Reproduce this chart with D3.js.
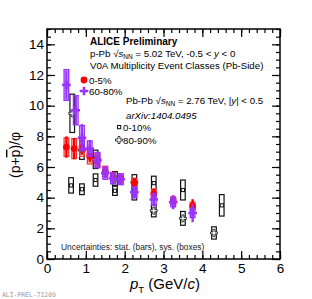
<!DOCTYPE html>
<html>
<head>
<meta charset="utf-8">
<script src="https://cdn.jsdelivr.net/npm/d3@7"></script>
<style>
  body { margin: 0; background: #fff; }
  svg { display: block; font-family: "Liberation Sans", Arial, sans-serif; }
</style>
</head>
<body>
<div id="chart"></div>
<script>
// p-Pb, V0A multiplicity classes
const ptPPb = [0.5, 0.7, 0.9, 1.1, 1.3, 1.5, 1.7, 1.9, 2.25, 2.75, 3.25, 3.75];
const ptPPbPeri = [0.5, 0.74, 0.9, 1.1, 1.3, 1.5, 1.7, 1.9, 2.25, 2.75, 3.25, 3.75];
const central05 = [7.3, 7.2, 7.3, 6.7, 6.45, 5.7, 5.35, 5.25, 4.95, 4.25, 3.8, 3.45];
const central05Stat = [0.7, 0.7, 0.5, 0.4, 0.35, 0.3, 0.3, 0.3, 0.35, 0.35, 0.35, 0.45];
const central05Sys = [0.6, 0.65, 0.6, 0.5, 0.45, 0.35, 0.3, 0.3, 0.3, 0.3, 0.25, 0.25];
const peri6080 = [11.35, 9.7, 7.9, 7.2, 6.45, 5.6, 5.25, 5.2, 4.35, 3.88, 3.7, 3.0];
const peri6080Stat = [0.95, 0.95, 0.9, 0.55, 0.5, 0.35, 0.35, 0.35, 0.4, 0.45, 0.45, 0.6];
const peri6080Sys = [1.0, 0.95, 0.8, 0.5, 0.5, 0.4, 0.35, 0.35, 0.35, 0.35, 0.3, 0.3];

// Pb-Pb, arXiv:1404.0495
const ptPbPb010 = [0.62, 0.9, 1.25, 1.75, 2.25, 2.75, 3.5, 4.5];
const pbpb010 = [4.8, 4.55, 5.15, 4.45, 4.25, 4.95, 4.5, 3.5];
const pbpb010Sys = [0.5, 0.35, 0.4, 0.3, 0.4, 0.45, 0.65, 0.7];
const ptPbPb8090 = [0.65, 0.9, 1.25, 1.75, 2.25, 2.75, 3.5, 4.3];
const pbpb8090 = [9.5, 7.1, 6.5, 5.25, 5.0, 3.15, 2.65, 1.7];
const pbpb8090Sys = [1.25, 0.6, 0.6, 0.45, 0.5, 0.4, 0.45, 0.4];

const xTicks = [0, 1, 2, 3, 4, 5, 6];
const yTicks = [0, 2, 4, 6, 8, 10, 12, 14];

const margin = {top: 29, right: 32, bottom: 40, left: 47};
const W = 312, H = 299;
const width = W - margin.left - margin.right;
const height = H - margin.top - margin.bottom;

const svg = d3.select('#chart').append('svg')
    .attr('width', W)
    .attr('height', H);

const g = svg.append('g')
    .attr('transform', 'translate(' + margin.left + ',' + margin.top + ')');

const x = d3.scaleLinear().domain([0, 6]).range([0, width]);
const y = d3.scaleLinear().domain([0, 15]).range([height, 0]);

// axes, ticks inward, mirrored
const xMinor = d3.range(0, 6.001, 0.2);
const yMinor = d3.range(0, 15.001, 0.5);

g.append('g').attr('transform', 'translate(0,' + height + ')')
    .call(d3.axisBottom(x).tickValues(xMinor).tickSize(-4).tickFormat(''));
g.append('g').attr('class', 'xlab').attr('transform', 'translate(0,' + height + ')')
    .call(d3.axisBottom(x).tickValues(xTicks).tickSize(-8).tickPadding(4).tickFormat(d3.format('d')));
g.append('g')
    .call(d3.axisLeft(y).tickValues(yMinor).tickSize(-4).tickFormat(''));
g.append('g').attr('class', 'ylab')
    .call(d3.axisLeft(y).tickValues(yTicks).tickSize(-8).tickPadding(3).tickFormat(d3.format('d')));
g.append('g').call(d3.axisTop(x).tickValues(xMinor).tickSize(-4).tickFormat(''));
g.append('g').call(d3.axisTop(x).tickValues(xTicks).tickSize(-8).tickFormat(''));
g.append('g').attr('transform', 'translate(' + width + ',0)')
    .call(d3.axisRight(y).tickValues(yMinor).tickSize(-4).tickFormat(''));
g.append('g').attr('transform', 'translate(' + width + ',0)')
    .call(d3.axisRight(y).tickValues(yTicks).tickSize(-8).tickFormat(''));

g.selectAll('.domain').remove();
g.selectAll('.tick line').attr('stroke', '#000').attr('stroke-width', 1.2);
g.selectAll('.xlab text, .ylab text')
    .attr('font-size', 13.5).attr('fill', '#000')
    .attr('font-family', '"Liberation Sans", Arial, sans-serif');

g.append('rect')
    .attr('width', width).attr('height', height)
    .attr('fill', 'none').attr('stroke', '#000').attr('stroke-width', 1.5);

// ---- data ----
const boxHalf = 2.3;
const plot = g.append('g');

function sysBoxes(sel, px, vals, sys, color, sw) {
    sel.selectAll(null).data(vals).enter().append('rect')
        .attr('x', (d, i) => x(px[i]) - boxHalf)
        .attr('y', (d, i) => y(d + sys[i]))
        .attr('width', boxHalf * 2)
        .attr('height', (d, i) => y(d - sys[i]) - y(d + sys[i]))
        .attr('fill', 'none')
        .attr('stroke', color)
        .attr('stroke-width', sw);
}

function statBars(sel, px, vals, stat, color, sw) {
    sel.selectAll(null).data(vals).enter().append('line')
        .attr('x1', (d, i) => x(px[i]))
        .attr('x2', (d, i) => x(px[i]))
        .attr('y1', (d, i) => y(d + stat[i]))
        .attr('y2', (d, i) => y(d - stat[i]))
        .attr('stroke', color)
        .attr('stroke-width', sw);
}

const crossPath = 'M-4.3,-1.3H-1.3V-4.3H1.3V-1.3H4.3V1.3H1.3V4.3H-1.3V1.3H-4.3Z';
const openCross = 'M-3.5,-1H-1V-3.5H1V-1H3.5V1H1V3.5H-1V1H-3.5Z';

// Pb-Pb 0-10%
const gA = plot.append('g');
sysBoxes(gA, ptPbPb010, pbpb010, pbpb010Sys, '#111', 1.2);
gA.selectAll(null).data(pbpb010).enter().append('rect')
    .attr('x', (d, i) => x(ptPbPb010[i]) - 1.6)
    .attr('y', d => y(d) - 1.6)
    .attr('width', 3.2).attr('height', 3.2)
    .attr('fill', '#fff').attr('stroke', '#111').attr('stroke-width', 1);

// Pb-Pb 80-90%
const gB = plot.append('g');
sysBoxes(gB, ptPbPb8090, pbpb8090, pbpb8090Sys, '#111', 1.2);
gB.selectAll(null).data(pbpb8090).enter().append('path')
    .attr('d', openCross)
    .attr('transform', (d, i) => 'translate(' + x(ptPbPb8090[i]) + ',' + y(d) + ')')
    .attr('fill', '#fff').attr('stroke', '#111').attr('stroke-width', 0.8);

// p-Pb 0-5%
const red = '#ff0000';
const gC = plot.append('g');
sysBoxes(gC, ptPPb, central05, central05Sys, '#ff3030', 1.3);
statBars(gC, ptPPb, central05, central05Stat, red, 2.4);
gC.selectAll(null).data(central05).enter().append('circle')
    .attr('cx', (d, i) => x(ptPPb[i]))
    .attr('cy', d => y(d))
    .attr('r', 3.4)
    .attr('fill', red);

// p-Pb 60-80%
const purple = '#9933ff';
const gD = plot.append('g');
sysBoxes(gD, ptPPbPeri, peri6080, peri6080Sys, purple, 1.4);
statBars(gD, ptPPbPeri, peri6080, peri6080Stat, purple, 2.4);
gD.selectAll(null).data(peri6080).enter().append('path')
    .attr('d', crossPath)
    .attr('transform', (d, i) => 'translate(' + x(ptPPbPeri[i]) + ',' + y(d) + ')')
    .attr('fill', purple);

// ---- text ----
const fs = 9.7;
function sqrtS(t, pre, post) {
    t.append('tspan').text(pre + '\u221A');
    t.append('tspan').attr('font-style', 'italic').text('s');
    t.append('tspan').attr('font-size', 6.5).attr('dy', 2).text('NN');
    t.append('tspan').attr('dy', -2).text(post);
}

svg.append('text').attr('x', 90).attr('y', 45)
    .attr('font-size', 10).attr('font-weight', 'bold').text('ALICE Preliminary');

const t1 = svg.append('text').attr('x', 90).attr('y', 57).attr('font-size', fs);
sqrtS(t1, 'p-Pb ', ' = 5.02 TeV, -0.5 < ');
t1.append('tspan').attr('font-style', 'italic').text('y');
t1.append('tspan').text(' < 0');

svg.append('text').attr('x', 90).attr('y', 69).attr('font-size', fs)
    .text('V0A Multiplicity Event Classes (Pb-Side)');

svg.append('circle').attr('cx', 84).attr('cy', 80).attr('r', 3.4).attr('fill', red);
svg.append('text').attr('x', 89).attr('y', 84).attr('font-size', fs).text('0-5%');
svg.append('path').attr('d', crossPath).attr('transform', 'translate(84,91)').attr('fill', purple);
svg.append('text').attr('x', 89).attr('y', 95).attr('font-size', fs).text('60-80%');

const t2 = svg.append('text').attr('x', 126).attr('y', 104).attr('font-size', fs);
sqrtS(t2, 'Pb-Pb ', ' = 2.76 TeV, |');
t2.append('tspan').attr('font-style', 'italic').text('y');
t2.append('tspan').text('| < 0.5');

svg.append('text').attr('x', 126).attr('y', 119).attr('font-size', fs)
    .attr('font-style', 'italic').text('arXiv:1404.0495');

svg.append('rect').attr('x', 117.5).attr('y', 125.5).attr('width', 3.2).attr('height', 3.2)
    .attr('fill', '#fff').attr('stroke', '#111').attr('stroke-width', 1);
svg.append('text').attr('x', 123).attr('y', 131).attr('font-size', fs).text('0-10%');
svg.append('path').attr('d', openCross).attr('transform', 'translate(119,140)')
    .attr('fill', '#fff').attr('stroke', '#111').attr('stroke-width', 0.8);
svg.append('text').attr('x', 123).attr('y', 144).attr('font-size', fs).text('80-90%');

svg.append('text').attr('x', 61).attr('y', 250).attr('font-size', 8.4).attr('fill', '#222')
    .text('Uncertainties: stat. (bars), sys. (boxes)');

// axis titles
const yt = svg.append('text')
    .attr('transform', 'translate(20,155) rotate(-90)')
    .attr('text-anchor', 'middle')
    .attr('font-size', 14);
yt.append('tspan').text('(p+');
yt.append('tspan').attr('text-decoration', 'overline').text('p');
yt.append('tspan').text(')/\u03C6');

const xt = svg.append('text').attr('x', 130).attr('y', 289).attr('font-size', 15);
xt.append('tspan').attr('font-style', 'italic').text('p');
xt.append('tspan').attr('font-size', 9.5).attr('dy', 4).text('T');
xt.append('tspan').attr('dy', -4).text(' (GeV/');
xt.append('tspan').attr('font-style', 'italic').text('c');
xt.append('tspan').text(')');

svg.append('text').attr('x', 2).attr('y', 297).attr('font-size', 6.4)
    .attr('font-family', '"DejaVu Sans Mono", monospace').attr('fill', '#999')
    .text('ALI-PREL-71209');
</script>
</body>
</html>
